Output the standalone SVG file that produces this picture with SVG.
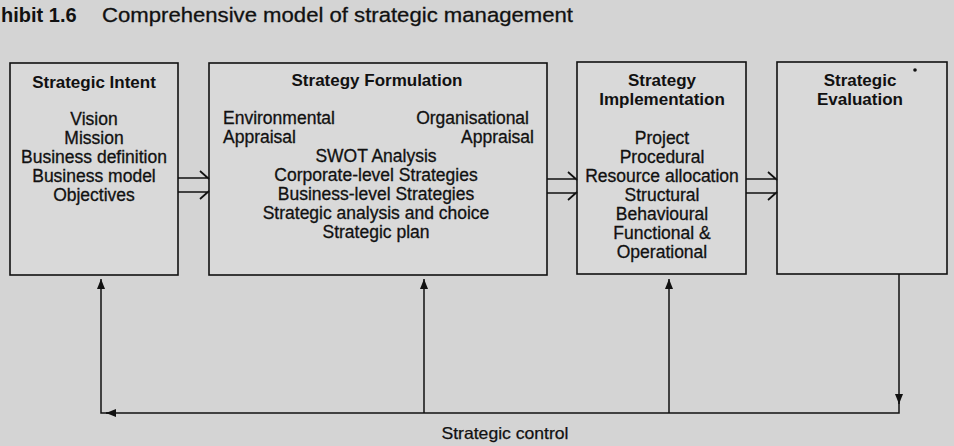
<svg xmlns="http://www.w3.org/2000/svg" width="954" height="446" viewBox="0 0 954 446">
<defs>
<style>
.box{fill:#d9d9d9;stroke:#111;stroke-width:1.6}
.t{font-family:"Liberation Sans",Arial,sans-serif;font-size:17.5px;fill:#111;stroke:#111;stroke-width:0.3}
.h{font-family:"Liberation Sans",Arial,sans-serif;font-size:17px;font-weight:bold;fill:#111}
.c{text-anchor:middle}
.ln{fill:none;stroke:#111;stroke-width:1.5}
.dbl{fill:none;stroke:#111;stroke-width:1.7}
</style>
<marker id="ah" viewBox="0 0 10 8" refX="10" refY="4" markerWidth="10" markerHeight="8" markerUnits="userSpaceOnUse" orient="auto">
<path d="M0,0 L10,4 L0,8 Z" fill="#111"/>
</marker>
</defs>
<rect width="954" height="446" fill="#d4d4d4"/>
<g id="title">
<text x="1" y="22" font-family="Liberation Sans,Arial,sans-serif" font-size="20" font-weight="bold" fill="#111">hibit 1.6</text>
<text x="102" y="22" font-family="Liberation Sans,Arial,sans-serif" font-size="20.5" fill="#111" stroke="#111" stroke-width="0.3" textLength="471" lengthAdjust="spacingAndGlyphs">Comprehensive model of strategic management</text>
</g>
<g id="strategic-intent">
<rect class="box" x="10" y="63" width="168" height="212"/>
<text class="h c" x="94" y="88">Strategic Intent</text>
<text class="t c" x="94" y="125">Vision</text>
<text class="t c" x="94" y="144">Mission</text>
<text class="t c" x="94" y="163">Business definition</text>
<text class="t c" x="94" y="182">Business model</text>
<text class="t c" x="94" y="201">Objectives</text>
</g>
<g id="strategy-formulation">
<rect class="box" x="209" y="63" width="338" height="212"/>
<text class="h c" x="377" y="86">Strategy Formulation</text>
<text class="t" x="223" y="124">Environmental</text>
<text class="t" x="223" y="143">Appraisal</text>
<text class="t" x="529" y="124" text-anchor="end">Organisational</text>
<text class="t" x="534" y="143" text-anchor="end">Appraisal</text>
<text class="t c" x="376" y="162">SWOT Analysis</text>
<text class="t c" x="376" y="181">Corporate-level Strategies</text>
<text class="t c" x="376" y="200">Business-level Strategies</text>
<text class="t c" x="376" y="219">Strategic analysis and choice</text>
<text class="t c" x="376" y="238">Strategic plan</text>
</g>
<g id="strategy-implementation">
<rect class="box" x="577" y="62" width="169" height="212"/>
<text class="h c" x="662" y="86">Strategy</text>
<text class="h c" x="662" y="105">Implementation</text>
<text class="t c" x="662" y="144">Project</text>
<text class="t c" x="662" y="163">Procedural</text>
<text class="t c" x="662" y="182">Resource allocation</text>
<text class="t c" x="662" y="201">Structural</text>
<text class="t c" x="662" y="220">Behavioural</text>
<text class="t c" x="662" y="239">Functional &amp;</text>
<text class="t c" x="662" y="258">Operational</text>
</g>
<g id="strategic-evaluation">
<rect class="box" x="777" y="62" width="170" height="212"/>
<text class="h c" x="860" y="86">Strategic</text>
<text class="h c" x="860" y="105">Evaluation</text>
<circle cx="915" cy="70" r="1.8" fill="#111"/>
</g>
<g id="connectors">
<path class="dbl" d="M178,178 H209 M178,192 H209 M200,171 L209,179 M200,199 L209,191"/>
<path class="dbl" d="M547,179 H577 M547,193 H577 M568,172 L577,180 M568,200 L577,192"/>
<path class="dbl" d="M746,179 H777 M746,193 H777 M768,172 L777,180 M768,200 L777,192"/>
<path class="ln" d="M899,274 V404" marker-end="url(#ah)"/>
<path class="ln" d="M899,400 V413 H106" marker-end="url(#ah)"/>
<path class="ln" d="M110,413 H101 V279" marker-end="url(#ah)"/>
<path class="ln" d="M424,413 V279" marker-end="url(#ah)"/>
<path class="ln" d="M669,413 V279" marker-end="url(#ah)"/>
</g>
<text x="505" y="439" text-anchor="middle" font-family="Liberation Sans,Arial,sans-serif" font-size="16.5" fill="#111" stroke="#111" stroke-width="0.25" textLength="127" lengthAdjust="spacingAndGlyphs">Strategic control</text>
</svg>
